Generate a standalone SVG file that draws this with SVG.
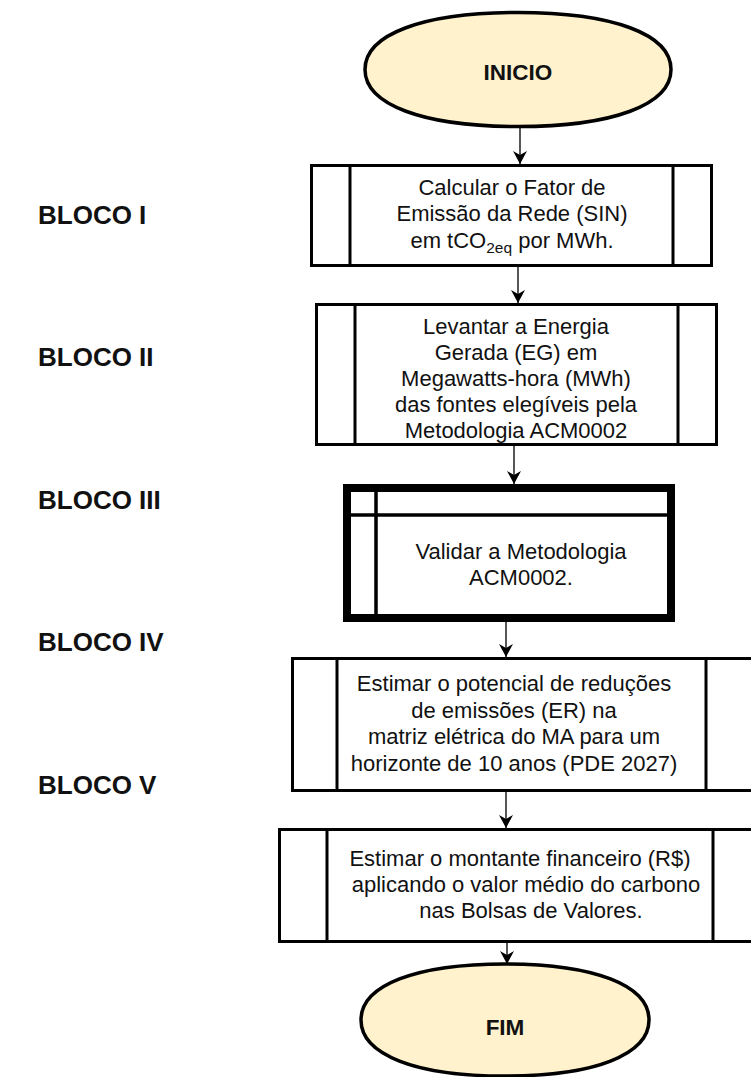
<svg xmlns="http://www.w3.org/2000/svg" width="751" height="1077" viewBox="0 0 751 1077">
<style>
.t{font-family:"Liberation Sans",Arial,sans-serif;font-size:22px;fill:#111;text-anchor:middle}
.b{font-family:"Liberation Sans",Arial,sans-serif;font-size:26px;font-weight:bold;fill:#111}
.bt{font-family:"Liberation Sans",Arial,sans-serif;font-size:22.5px;font-weight:bold;fill:#111;text-anchor:middle}
.box{fill:#fff;stroke:#000;stroke-width:3}
.term{fill:#FFF2CC;stroke:#000;stroke-width:3.5}
.ln{stroke:#000;stroke-width:3}
.con{stroke:#444;stroke-width:1.8;fill:none;marker-end:url(#ah)}
</style>
<defs>
<marker id="ah" markerUnits="userSpaceOnUse" markerWidth="14" markerHeight="14" refX="13" refY="7" orient="auto">
<path d="M0,0 L13,7 L0,14 L4,7 Z" fill="#000"/>
</marker>
</defs>
<rect width="751" height="1077" fill="#fff"/>
<g id="labels">
<text class="b" x="38" y="224">BLOCO I</text>
<text class="b" x="38" y="366">BLOCO II</text>
<text class="b" x="38" y="509">BLOCO III</text>
<text class="b" x="38" y="651">BLOCO IV</text>
<text class="b" x="38" y="794">BLOCO V</text>
</g>
<g id="connectors">
<line class="con" x1="520" y1="128" x2="520" y2="164"/>
<line class="con" x1="518" y1="267" x2="518" y2="303"/>
<line class="con" x1="514" y1="446" x2="514" y2="484"/>
<line class="con" x1="506" y1="622" x2="506" y2="657"/>
<line class="con" x1="506" y1="792" x2="506" y2="828"/>
<line class="con" x1="507" y1="943" x2="507" y2="964"/>
</g>
<g id="inicio">
<path class="term" d="M365,69.5 C365,34.2 423.1,12.5 518,12.5 C612.9,12.5 671,34.2 671,69.5 C671,104.8 612.9,126.5 518,126.5 C423.1,126.5 365,104.8 365,69.5 Z"/>
<text class="bt" x="518" y="80">INICIO</text>
</g>
<g id="bloco1">
<rect class="box" x="311.5" y="165.5" width="400" height="100"/>
<line class="ln" x1="350" y1="165.5" x2="350" y2="265.5"/>
<line class="ln" x1="673" y1="165.5" x2="673" y2="265.5"/>
<text class="t" x="512" y="195">Calcular o Fator de</text>
<text class="t" x="512" y="221">Emissão da Rede (SIN)</text>
<text class="t" x="512" y="248">em tCO<tspan font-size="15.5" dy="5">2eq</tspan><tspan dy="-5"> por MWh.</tspan></text>
</g>
<g id="bloco2">
<rect class="box" x="316.5" y="304.5" width="400" height="140"/>
<line class="ln" x1="355" y1="304.5" x2="355" y2="444.5"/>
<line class="ln" x1="678" y1="304.5" x2="678" y2="444.5"/>
<text class="t" x="516" y="334">Levantar a Energia</text>
<text class="t" x="516" y="360">Gerada (EG) em</text>
<text class="t" x="516" y="386">Megawatts-hora (MWh)</text>
<text class="t" x="516" y="412">das fontes elegíveis pela</text>
<text class="t" x="516" y="438">Metodologia ACM0002</text>
</g>
<g id="bloco3">
<rect x="347" y="488" width="324" height="130" fill="#fff" stroke="#000" stroke-width="8"/>
<line x1="376" y1="488" x2="376" y2="618" stroke="#000" stroke-width="3.5"/>
<line x1="347" y1="515" x2="671" y2="515" stroke="#000" stroke-width="3.5"/>
<text class="t" x="521" y="559">Validar a Metodologia</text>
<text class="t" x="521" y="585">ACM0002.</text>
</g>
<g id="bloco4">
<rect class="box" x="292.5" y="658.5" width="470" height="132"/>
<line class="ln" x1="337" y1="658.5" x2="337" y2="790.5"/>
<line class="ln" x1="706" y1="658.5" x2="706" y2="790.5"/>
<text class="t" x="514" y="691">Estimar o potencial de reduções</text>
<text class="t" x="514" y="718">de emissões (ER) na</text>
<text class="t" x="514" y="744">matriz elétrica do MA para um</text>
<text class="t" x="514" y="771">horizonte de 10 anos (PDE 2027)</text>
</g>
<g id="bloco5">
<rect class="box" x="279.5" y="829.5" width="480" height="112"/>
<line class="ln" x1="327" y1="829.5" x2="327" y2="941.5"/>
<line class="ln" x1="713" y1="829.5" x2="713" y2="941.5"/>
<text class="t" x="520" y="866">Estimar o montante financeiro (R$)</text>
<text class="t" x="526" y="892">aplicando o valor médio do carbono</text>
<text class="t" x="531" y="918">nas Bolsas de Valores.</text>
</g>
<g id="fim">
<path class="term" d="M361,1020 C361,985.3 415.7,964 505,964 C594.3,964 649,985.3 649,1020 C649,1054.7 594.3,1076 505,1076 C415.7,1076 361,1054.7 361,1020 Z"/>
<text class="bt" x="505" y="1035">FIM</text>
</g>
</svg>
